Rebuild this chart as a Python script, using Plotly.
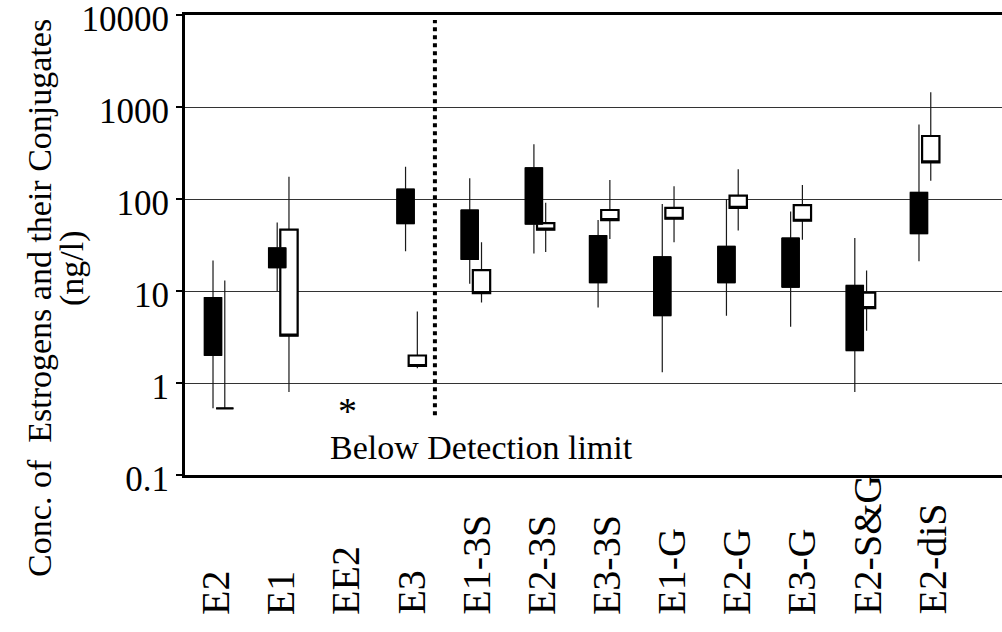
import plotly.graph_objects as go

categories = ["E2", "E1", "EE2", "E3", "E1-3S", "E2-3S", "E3-3S",
              "E1-G", "E2-G", "E3-G", "E2-S&G", "E2-diS"]

# filled (black) boxes: whisker low, box bottom, box top, whisker high (ng/l)
black_low = [0.53, 10, None, 27, 12, 25.5, 6.6, 1.31, 5.4, 4.1, 0.8, 21]
black_q1 = [2.0, 17.9, None, 54, 22, 53.4, 12.3, 5.4, 12.3, 11, 2.25, 42]
black_q3 = [8.5, 29.4, None, 128, 76, 218, 40, 23.5, 30.6, 37.7, 11.5, 118]
black_high = [21.5, 55.6, None, 224, 168, 394, 59, 88, 100, 73, 37.7, 647]

# open (white) boxes
white_low = [0.53, 0.8, None, 1.45, 7.5, 26.6, 36.8, 33.8, 45.6, 36, 3.7, 158]
white_q1 = [0.53, 3.27, None, 1.53, 9.5, 46.4, 59, 61, 80, 58, 6.5, 250]
white_q3 = [0.53, 46.4, None, 1.99, 16.9, 54.8, 76, 80, 109, 86, 9.6, 484]
white_high = [13, 175, None, 6.0, 33.8, 91, 161, 138, 210, 142, 16.7, 1445]

y_tick_vals = [0.1, 1, 10, 100, 1000, 10000]
y_tick_text = ["0.1", "1", "10", "100", "1000", "10000"]

y_title = "Conc. of  Estrogens and their Conjugates"
y_unit = "(ng/l)"
below_label = "Below Detection limit"

FONT = "Liberation Serif"
BOX_W = 0.27


def pick(vals, idx):
    return [vals[i] for i in idx]


def box_traces(low, q1, q3, high, offset, fill, outline_w):
    idx = [i for i, v in enumerate(q1) if v is not None]
    xs = [i + offset for i in idx]
    common = dict(x=xs, q1=pick(q1, idx), median=pick(q1, idx), q3=pick(q3, idx),
                  width=BOX_W, boxpoints=False, whiskerwidth=0,
                  hoverinfo="skip", showlegend=False)
    whisk = go.Box(lowerfence=pick(low, idx), upperfence=pick(high, idx),
                   fillcolor=fill, line=dict(color="#1a1a1a", width=1.2), **common)
    outline = go.Box(lowerfence=pick(q1, idx), upperfence=pick(q3, idx),
                     fillcolor=fill, line=dict(color="black", width=outline_w), **common)
    return [whisk, outline]


fig = go.Figure()
for t in box_traces(white_low, white_q1, white_q3, white_high, 0.09, "white", 2.2):
    fig.add_trace(t)
for t in box_traces(black_low, black_q1, black_q3, black_high, -0.0935, "black", 1):
    fig.add_trace(t)

annotations = []
for i, c in enumerate(categories):
    annotations.append(dict(
        x=-0.062 + 1.0156 * i, xref="x", y=-0.3087, yref="paper",
        text=c, textangle=-90, showarrow=False, xanchor="center", yanchor="bottom",
        font=dict(family=FONT, size=40, color="black")))

annotations.append(dict(x=-0.1775, xref="paper", y=0.385, yref="paper",
                        text=y_title, textangle=-90, showarrow=False,
                        xanchor="center", yanchor="middle",
                        font=dict(family=FONT, size=34, color="black")))
annotations.append(dict(x=-0.1383, xref="paper", y=0.45, yref="paper",
                        text=y_unit, textangle=-90, showarrow=False,
                        xanchor="center", yanchor="middle",
                        font=dict(family=FONT, size=34, color="black")))
annotations.append(dict(x=categories.index("EE2"), xref="x", y=0.14, yref="paper",
                        text="*", showarrow=False, xanchor="center", yanchor="middle",
                        font=dict(family=FONT, size=38, color="black")))
annotations.append(dict(x=4.09, xref="x", y=0.0587, yref="paper",
                        text=below_label, showarrow=False, xanchor="center", yanchor="middle",
                        font=dict(family=FONT, size=34, color="black")))

fig.update_layout(
    width=1002, height=632,
    margin=dict(l=185, r=0, t=15, b=157, pad=0, autoexpand=False),
    paper_bgcolor="white", plot_bgcolor="white",
    boxmode="overlay", showlegend=False,
    font=dict(family=FONT, color="black"),
    annotations=annotations,
    shapes=[dict(type="line", xref="x", yref="paper", x0=3.364, x1=3.364,
                 y0=0.13, y1=0.989, line=dict(color="black", width=4, dash="dot"))],
    xaxis=dict(range=[-0.53, 12.2], showgrid=False, zeroline=False, automargin=False,
               showticklabels=False, ticks="", showline=True, linecolor="black",
               linewidth=3, mirror=True),
    yaxis=dict(type="log", range=[-1, 4.0002], tickvals=y_tick_vals, ticktext=y_tick_text,
               ticks="outside", ticklen=6, tickwidth=1.5, tickcolor="black",
               ticklabeloverflow="allow", automargin=False, ticklabelshift=4,
               showline=True, linecolor="black", linewidth=3, mirror=False,
               showgrid=True, gridcolor="#333333", gridwidth=1,
               tickfont=dict(family=FONT, size=35, color="black")),
)

fig.write_html("out.html")
